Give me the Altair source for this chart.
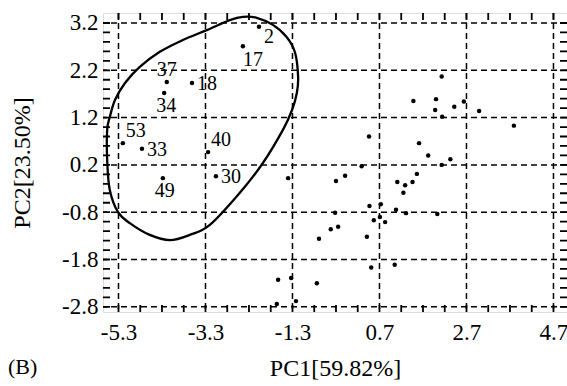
import altair as alt
import pandas as pd
import json

# ---------------- data ----------------
label_names = ["2", "17", "37", "18", "34", "53", "33", "40", "49", "30"]
label_x = [-2.07, -2.44, -4.19, -3.61, -4.25, -5.20, -4.76, -3.24, -4.28, -3.06]
label_y = [3.12, 2.71, 1.95, 1.93, 1.72, 0.66, 0.54, 0.47, -0.08, -0.04]

other_x = [-1.40, -1.63, -1.33, -1.66, -1.22, 2.13, 1.48, 2.00, 2.64, 2.42, 1.98,
           2.14, 2.99, 3.79, 0.46, 1.61, 1.82, 2.33, 2.13, 0.29, -0.09, -0.30,
           1.11, 1.56, 1.46, 1.29, 1.25, 0.47, 0.73, 1.08, 1.31, 2.03, -0.32,
           0.71, 0.57, 0.83, -0.42, -0.25, -0.69, 0.41, 0.51, 1.05, -0.74]
other_y = [-0.08, -2.23, -2.19, -2.74, -2.68, 2.07, 1.55, 1.59, 1.54, 1.43, 1.36,
           1.22, 1.34, 1.03, 0.80, 0.66, 0.40, 0.32, 0.20, 0.17, -0.03, -0.14,
           -0.16, 0.01, -0.16, -0.23, -0.39, -0.67, -0.63, -0.75, -0.82, -0.84, -0.81,
           -0.90, -0.97, -1.01, -1.16, -1.11, -1.36, -1.32, -1.97, -1.91, -2.30]

# confidence ellipse outline
ell_x = [-2.74, -2.44, -2.12, -1.75, -1.43, -1.24, -1.17, -1.20, -1.31, -1.52, -1.98,
         -2.51, -3.20, -3.66, -4.12, -4.58, -5.04, -5.31, -5.50, -5.56, -5.56, -5.50,
         -5.38, -5.15, -4.81, -4.35, -3.82, -3.27]
ell_y = [3.26, 3.33, 3.31, 3.16, 2.90, 2.57, 2.06, 1.72, 1.36, 0.94, 0.24,
         -0.39, -1.07, -1.28, -1.39, -1.28, -1.03, -0.80, -0.33, 0.30, 0.94, 1.21,
         1.57, 1.93, 2.27, 2.59, 2.84, 3.05]

x_major = [-5.3, -3.3, -1.3, 0.7, 2.7, 4.7]
y_major = [-2.8, -1.8, -0.8, 0.2, 1.2, 2.2, 3.2]
x_minor = [round(-5.3 + 0.5 * i, 1) for i in range(21)]
y_minor = [round(-2.8 + 0.2 * i, 1) for i in range(31)]

x_title = "PC1[59.82%]"
y_title = "PC2[23.50%]"
panel_label = "(B)"

# label placement groups
lab_right = ["18", "33", "30"]
lab_below = ["34", "49"]
lab_below_right = ["2"]
lab_below_left = ["17"]
lab_above = ["37"]
lab_above_right = ["53", "40"]

# ---------------- build ----------------
FONT = "Liberation Serif"
W, H = 464, 299
TL = 7  # inward tick length

points_df = pd.DataFrame({
    "x": label_x + other_x,
    "y": label_y + other_y,
    "name": label_names + [""] * len(other_x),
})
labels_df = pd.DataFrame({"x": label_x, "y": label_y, "name": label_names})
ell_df = pd.DataFrame({"x": ell_x, "y": ell_y, "i": list(range(len(ell_x)))})
xminor_df = pd.DataFrame({"x": x_minor})
yminor_df = pd.DataFrame({"y": y_minor})
xmajor_df = pd.DataFrame({"x": x_major})
ymajor_df = pd.DataFrame({"y": y_major})

xscale = alt.Scale(domain=[-5.656, 5.011], nice=False, zero=False)
yscale = alt.Scale(domain=[-2.910, 3.411], nice=False, zero=False)


def lab_expr(major):
    return (f"indexof({json.dumps(major)}, round(datum.value*10)/10) >= 0 ? "
            "(datum.value < 0 ? '-' : '') + format(abs(datum.value), '.1f') : ''")


common = dict(ticks=False, domain=False, grid=False,
              labelFont=FONT, labelFontSize=23, labelColor="black",
              labelFlush=False, labelOverlap=False, labelBound=False,
              titleFont=FONT, titleFontSize=24, titleFontWeight="normal", titleColor="black")

bottom_axis = alt.Axis(orient="bottom", values=x_minor, labelExpr=lab_expr(x_major),
                       labelPadding=9, title=x_title, titlePadding=12, **common)
left_axis = alt.Axis(orient="left", values=y_minor, labelExpr=lab_expr(y_major),
                     labelPadding=5, title=y_title, titlePadding=27, **common)


def X():
    return alt.X("x:Q", scale=xscale, axis=bottom_axis)


def Y():
    return alt.Y("y:Q", scale=yscale, axis=left_axis)


grid_x = alt.Chart(xmajor_df).mark_rule(
    color="black", strokeDash=[6, 4], strokeWidth=1.5
).encode(x=X())

grid_y = alt.Chart(ymajor_df).mark_rule(
    color="black", strokeDash=[6, 4], strokeWidth=1.5
).encode(y=Y())

tick_style = dict(color="black", strokeWidth=1.8, opacity=1, strokeDash=[1, 0])
ticks_bottom = alt.Chart(xminor_df).mark_rule(**tick_style).encode(
    x=X(), y=alt.value(H - TL), y2=alt.value(H))
ticks_top = alt.Chart(xminor_df).mark_rule(**tick_style).encode(
    x=X(), y=alt.value(0), y2=alt.value(TL))
ticks_left = alt.Chart(yminor_df).mark_rule(**tick_style).encode(
    y=Y(), x=alt.value(0), x2=alt.value(TL))
ticks_right = alt.Chart(yminor_df).mark_rule(**tick_style).encode(
    y=Y(), x=alt.value(W - TL), x2=alt.value(W))

ellipse = alt.Chart(ell_df).mark_line(
    color="black", strokeWidth=2.3, interpolate="cardinal-closed"
).encode(x=X(), y=Y(), order="i:Q")

points = alt.Chart(points_df).mark_circle(color="black", size=20, opacity=1).encode(
    x=X(), y=Y())


def label_layer(names, align, dx, dy):
    return alt.Chart(labels_df).transform_filter(
        alt.FieldOneOfPredicate(field="name", oneOf=names)
    ).mark_text(
        align=align, baseline="middle", dx=dx, dy=dy, font=FONT, fontSize=20, color="black"
    ).encode(x=X(), y=Y(), text="name:N")


labels = [
    label_layer(lab_right, "left", 5, 1),
    label_layer(lab_below, "center", 2, 13),
    label_layer(lab_below_right, "left", 5, 10),
    label_layer(lab_below_left, "left", 0, 14),
    label_layer(lab_above, "center", 0, -12),
    label_layer(lab_above_right, "left", 3, -12),
]

chart = alt.layer(
    points, grid_x, grid_y, ticks_bottom, ticks_top, ticks_left, ticks_right,
    ellipse, *labels
).properties(
    width=W,
    height=H,
    padding={"left": 103, "top": 13, "right": 0, "bottom": 74},
    autosize=alt.AutoSizeParams(type="none"),
    title=alt.TitleParams(panel_label, orient="bottom", anchor="start", frame="group",
                          dx=-95, dy=-27, font=FONT, fontSize=22, fontWeight="normal",
                          color="black"),
).configure_view(stroke="black", strokeWidth=2).configure(background="white")

chart.save("out.html", embed_options={"renderer": "svg", "actions": False})
